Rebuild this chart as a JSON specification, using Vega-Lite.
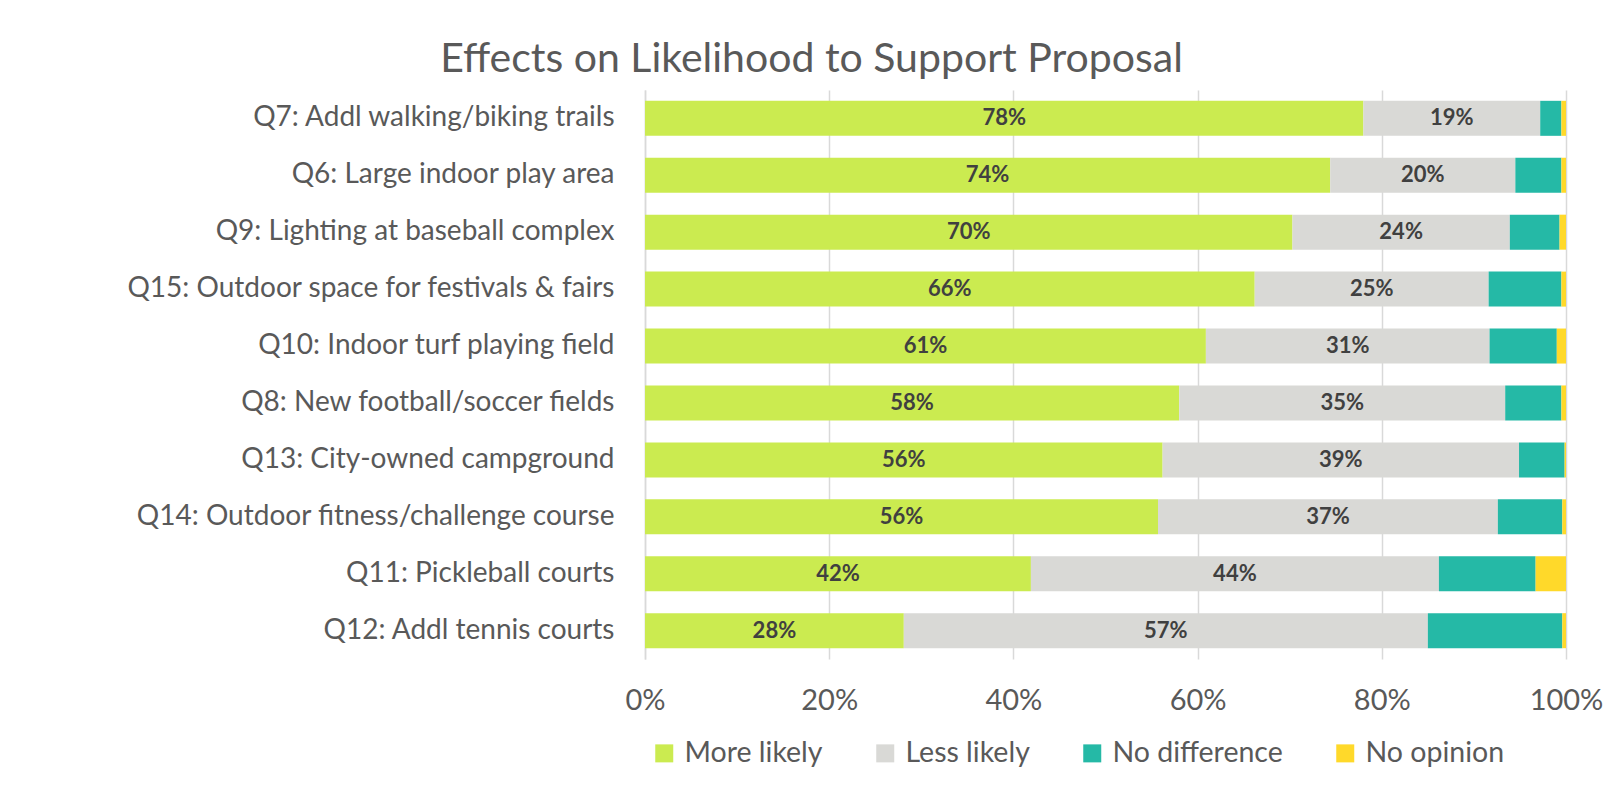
{
  "$schema": "https://vega.github.io/schema/vega-lite/v6.json",
  "autosize": "none",
  "width": 921,
  "height": 569,
  "padding": {"left": 645, "top": 90, "right": 57, "bottom": 126},
  "background": "white",
  "title": {
    "text": "Effects on Likelihood to Support Proposal",
    "font": "Lato",
    "fontSize": 41,
    "fontWeight": "normal",
    "color": "#595959",
    "anchor": "middle",
    "dx": -294,
    "baseline": "alphabetic",
    "offset": -23
  },
  "data": {
    "values": [
      {"q": "Q7: Addl walking/biking trails", "cat": "More likely", "ord": 1, "v": 0.780},
      {"q": "Q7: Addl walking/biking trails", "cat": "Less likely", "ord": 2, "v": 0.192},
      {"q": "Q7: Addl walking/biking trails", "cat": "No difference", "ord": 3, "v": 0.023},
      {"q": "Q7: Addl walking/biking trails", "cat": "No opinion", "ord": 4, "v": 0.005},
      {"q": "Q6: Large indoor play area", "cat": "More likely", "ord": 1, "v": 0.744},
      {"q": "Q6: Large indoor play area", "cat": "Less likely", "ord": 2, "v": 0.201},
      {"q": "Q6: Large indoor play area", "cat": "No difference", "ord": 3, "v": 0.050},
      {"q": "Q6: Large indoor play area", "cat": "No opinion", "ord": 4, "v": 0.005},
      {"q": "Q9: Lighting at baseball complex", "cat": "More likely", "ord": 1, "v": 0.703},
      {"q": "Q9: Lighting at baseball complex", "cat": "Less likely", "ord": 2, "v": 0.236},
      {"q": "Q9: Lighting at baseball complex", "cat": "No difference", "ord": 3, "v": 0.054},
      {"q": "Q9: Lighting at baseball complex", "cat": "No opinion", "ord": 4, "v": 0.007},
      {"q": "Q15: Outdoor space for festivals & fairs", "cat": "More likely", "ord": 1, "v": 0.662},
      {"q": "Q15: Outdoor space for festivals & fairs", "cat": "Less likely", "ord": 2, "v": 0.254},
      {"q": "Q15: Outdoor space for festivals & fairs", "cat": "No difference", "ord": 3, "v": 0.079},
      {"q": "Q15: Outdoor space for festivals & fairs", "cat": "No opinion", "ord": 4, "v": 0.005},
      {"q": "Q10: Indoor turf playing field", "cat": "More likely", "ord": 1, "v": 0.609},
      {"q": "Q10: Indoor turf playing field", "cat": "Less likely", "ord": 2, "v": 0.308},
      {"q": "Q10: Indoor turf playing field", "cat": "No difference", "ord": 3, "v": 0.073},
      {"q": "Q10: Indoor turf playing field", "cat": "No opinion", "ord": 4, "v": 0.010},
      {"q": "Q8: New football/soccer fields", "cat": "More likely", "ord": 1, "v": 0.580},
      {"q": "Q8: New football/soccer fields", "cat": "Less likely", "ord": 2, "v": 0.354},
      {"q": "Q8: New football/soccer fields", "cat": "No difference", "ord": 3, "v": 0.061},
      {"q": "Q8: New football/soccer fields", "cat": "No opinion", "ord": 4, "v": 0.005},
      {"q": "Q13: City-owned campground", "cat": "More likely", "ord": 1, "v": 0.562},
      {"q": "Q13: City-owned campground", "cat": "Less likely", "ord": 2, "v": 0.387},
      {"q": "Q13: City-owned campground", "cat": "No difference", "ord": 3, "v": 0.0495},
      {"q": "Q13: City-owned campground", "cat": "No opinion", "ord": 4, "v": 0.0015},
      {"q": "Q14: Outdoor fitness/challenge course", "cat": "More likely", "ord": 1, "v": 0.557},
      {"q": "Q14: Outdoor fitness/challenge course", "cat": "Less likely", "ord": 2, "v": 0.369},
      {"q": "Q14: Outdoor fitness/challenge course", "cat": "No difference", "ord": 3, "v": 0.070},
      {"q": "Q14: Outdoor fitness/challenge course", "cat": "No opinion", "ord": 4, "v": 0.004},
      {"q": "Q11: Pickleball courts", "cat": "More likely", "ord": 1, "v": 0.419},
      {"q": "Q11: Pickleball courts", "cat": "Less likely", "ord": 2, "v": 0.443},
      {"q": "Q11: Pickleball courts", "cat": "No difference", "ord": 3, "v": 0.105},
      {"q": "Q11: Pickleball courts", "cat": "No opinion", "ord": 4, "v": 0.033},
      {"q": "Q12: Addl tennis courts", "cat": "More likely", "ord": 1, "v": 0.281},
      {"q": "Q12: Addl tennis courts", "cat": "Less likely", "ord": 2, "v": 0.569},
      {"q": "Q12: Addl tennis courts", "cat": "No difference", "ord": 3, "v": 0.146},
      {"q": "Q12: Addl tennis courts", "cat": "No opinion", "ord": 4, "v": 0.004}
    ]
  },
  "transform": [
    {"stack": "v", "groupby": ["q"], "sort": [{"field": "ord", "order": "ascending"}], "as": ["v0", "v1"]},
    {"calculate": "(datum.v0 + datum.v1) / 2", "as": "vmid"}
  ],
  "encoding": {
    "y": {
      "field": "q",
      "type": "nominal",
      "sort": null,
      "scale": {"paddingInner": 0.385, "paddingOuter": 0.19},
      "axis": {
        "title": null,
        "labelFont": "Lato",
        "labelFontSize": 28,
        "labelColor": "#595959",
        "labelPadding": 31,
        "labelLimit": 0,
        "ticks": false,
        "domain": true,
        "domainColor": "#d9d9d9",
        "domainWidth": 1.5,
        "grid": false
      }
    }
  },
  "layer": [
    {
      "mark": {"type": "bar"},
      "encoding": {
        "x": {
          "field": "v0",
          "type": "quantitative",
          "scale": {"domain": [0, 1], "nice": false},
          "axis": {
            "title": null,
            "format": ".0%",
            "values": [0, 0.2, 0.4, 0.6, 0.8, 1],
            "labelFont": "Lato",
            "labelFontSize": 29,
            "labelColor": "#595959",
            "labelPadding": 27,
            "labelFlush": false,
            "labelOverlap": false,
            "ticks": false,
            "domain": false,
            "grid": true,
            "gridColor": "#d9d9d9",
            "gridWidth": 1.5
          }
        },
        "x2": {"field": "v1"},
        "color": {
          "field": "cat",
          "type": "nominal",
          "scale": {
            "domain": ["More likely", "Less likely", "No difference", "No opinion"],
            "range": ["#cbeb50", "#d9d9d6", "#25b9a6", "#ffd92a"]
          },
          "legend": {
            "title": null,
            "orient": "none",
            "direction": "horizontal",
            "legendX": 5,
            "legendY": 649,
            "columns": 4,
            "symbolType": "square",
            "symbolSize": 324,
            "symbolStrokeWidth": 0,
            "labelFont": "Lato",
            "labelFontSize": 28.5,
            "labelColor": "#595959",
            "labelOffset": 6,
            "labelLimit": 0,
            "columnPadding": 48
          }
        }
      }
    },
    {
      "transform": [{"filter": "datum.ord <= 2"}],
      "mark": {"type": "text", "font": "Lato", "fontSize": 22, "fontWeight": "bold", "color": "#404040", "baseline": "middle", "align": "center"},
      "encoding": {
        "x": {"field": "vmid", "type": "quantitative"},
        "text": {"field": "v", "type": "quantitative", "format": ".0%"}
      }
    }
  ],
  "config": {"view": {"stroke": null}}
}
